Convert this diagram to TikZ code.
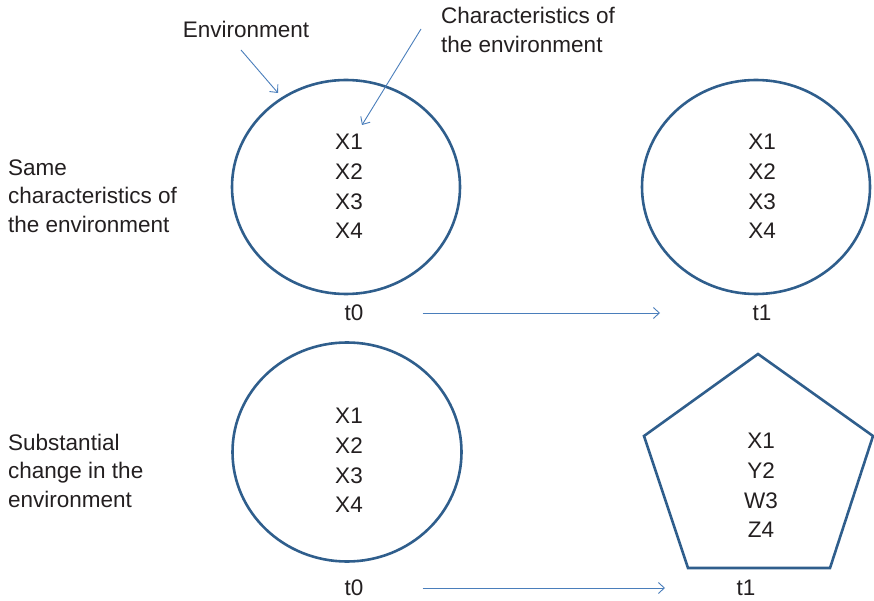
\documentclass[tikz,border=0pt]{standalone}
\usepackage{fontspec}
\setmainfont{Liberation Sans}
\usetikzlibrary{shapes.geometric,arrows.meta}
\definecolor{shape}{HTML}{2F5E8C}
\definecolor{arr}{HTML}{4A7EBB}
\definecolor{txt}{HTML}{231F20}
\begin{document}
\begin{tikzpicture}[x=1pt,y=-1pt,
  env/.style={draw=shape,line width=2.6pt,ellipse,inner sep=0pt},
  lbl/.style={text=txt,font=\fontsize{22.5}{28.5}\selectfont,inner sep=0pt},
  stack/.style={lbl,align=center,font=\fontsize{22.5}{29.8}\selectfont},
  conn/.style={draw=arr,line width=0.9pt,-{Straight Barb[length=6pt,width=11pt,line width=0.9pt]}}]
\useasboundingbox (0,0) rectangle (874,601);
% shapes
\node[env,minimum width=228pt,minimum height=214pt] (e1) at (346,187) {};
\node[env,minimum width=228pt,minimum height=214pt] (e2) at (756,187) {};
\node[env,minimum width=229pt,minimum height=219pt] (e3) at (347,452) {};
\coordinate (p1) at (758,354);
\coordinate (p2) at (873,436);
\coordinate (p3) at (830,568);
\coordinate (p4) at (688,568);
\coordinate (p5) at (644,436);
\draw[draw=shape,line width=2.6pt,line join=miter] (p1) -- (p2) -- (p3) -- (p4) -- (p5) -- cycle;
% stacks
\node[stack] (s1) at (349,186.5) {X1\\X2\\X3\\X4};
\node[stack] (s2) at (762,186.5) {X1\\X2\\X3\\X4};
\node[stack] (s3) at (349,460.5) {X1\\X2\\X3\\X4};
\node[stack] (s4) at (761,485.5) {X1\\Y2\\W3\\Z4};
% time labels
\node[lbl] (t0a) at (354,313) {t0};
\node[lbl] (t1a) at (762,313) {t1};
\node[lbl] (t0b) at (354,588) {t0};
\node[lbl] (t1b) at (746,588) {t1};
\draw[conn] (t0a.east) ++(59,0) coordinate (a1) -- (660,313) coordinate (a2);
\draw[conn] (t0b.east) ++(59,0) coordinate (b1) -- (665,588) coordinate (b2);
% side labels
\node[lbl,align=left,anchor=west] (same) at (8,196) {Same\\characteristics of\\the environment};
\node[lbl,align=left,anchor=west] (subst) at (8,470.5) {Substantial\\change in the\\environment};
% top labels
\node[lbl] (envl) at (246,29) {Environment};
\node[lbl,align=left,anchor=west] (charl) at (441,30) {Characteristics of\\the environment};
\coordinate (ea) at (241,50);
\coordinate (eb) at (278,93);
\coordinate (ca) at (421,29);
\coordinate (cb) at (362,125);
\draw[conn] (ea) -- (eb);
\draw[conn] (ca) -- (cb);
\end{tikzpicture}
\end{document}
